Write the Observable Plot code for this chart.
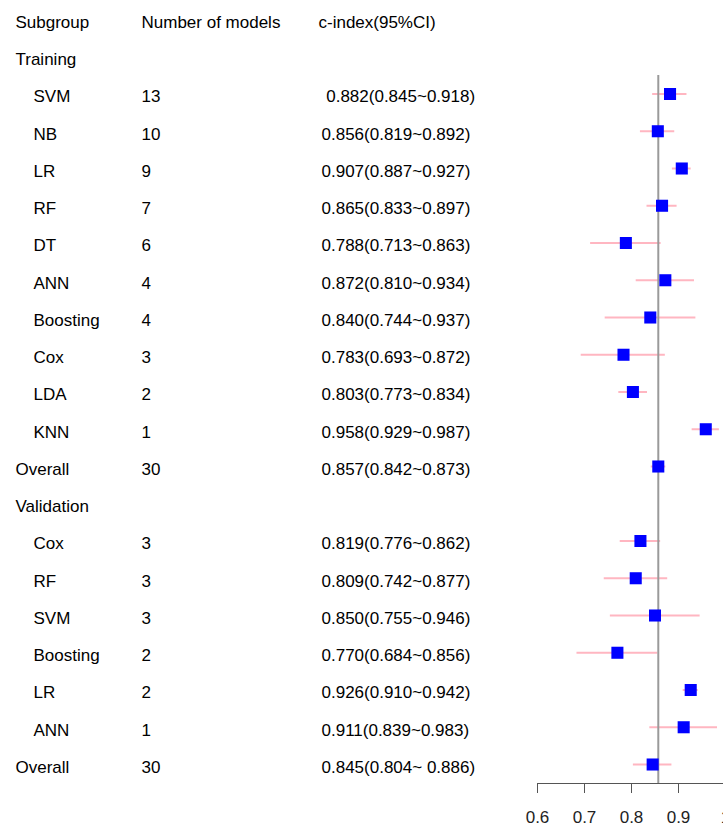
<!DOCTYPE html>
<html>
<head>
<meta charset="utf-8">
<script src="https://cdn.jsdelivr.net/npm/d3@7"></script>
<script src="https://cdn.jsdelivr.net/npm/@observablehq/plot@0.6"></script>
<style>
  html, body { margin: 0; padding: 0; background: #fff; overflow: hidden; }
  #chart svg { display: block; max-width: none !important; }
</style>
</head>
<body>
<div id="chart"></div>
<script>
// ---- data ----
const headers = ["Subgroup", "Number of models", "c-index(95%CI)"];
const labels = ["Training", "SVM", "NB", "LR", "RF", "DT", "ANN", "Boosting", "Cox", "LDA", "KNN", "Overall",
                "Validation", "Cox", "RF", "SVM", "Boosting", "LR", "ANN", "Overall"];
const sectionRows = ["Training", "Validation", "Overall"];
const nModels = [null, 13, 10, 9, 7, 6, 4, 4, 3, 2, 1, 30,
                 null, 3, 3, 3, 2, 2, 1, 30];
const est   = [null, 0.882, 0.856, 0.907, 0.865, 0.788, 0.872, 0.840, 0.783, 0.803, 0.958, 0.857,
               null, 0.819, 0.809, 0.850, 0.770, 0.926, 0.911, 0.845];
const lower = [null, 0.845, 0.819, 0.887, 0.833, 0.713, 0.810, 0.744, 0.693, 0.773, 0.929, 0.842,
               null, 0.776, 0.742, 0.755, 0.684, 0.910, 0.839, 0.804];
const upper = [null, 0.918, 0.892, 0.927, 0.897, 0.863, 0.934, 0.937, 0.872, 0.834, 0.987, 0.873,
               null, 0.862, 0.877, 0.946, 0.856, 0.942, 0.983, 0.886];
const ciText = ["", "\u00A00.882(0.845~0.918)", "0.856(0.819~0.892)", "0.907(0.887~0.927)", "0.865(0.833~0.897)",
                "0.788(0.713~0.863)", "0.872(0.810~0.934)", "0.840(0.744~0.937)", "0.783(0.693~0.872)",
                "0.803(0.773~0.834)", "0.958(0.929~0.987)", "0.857(0.842~0.873)",
                "", "0.819(0.776~0.862)", "0.809(0.742~0.877)", "0.850(0.755~0.946)", "0.770(0.684~0.856)",
                "0.926(0.910~0.942)", "0.911(0.839~0.983)", "0.845(0.804~ 0.886)"];
const xTicks = [0.6, 0.7, 0.8, 0.9, 1.0];
const refValue = 0.857; // overall training c-index

// ---- table ----
const rows = labels.map((label, i) => ({
  row: i + 1, label, n: nModels[i], est: est[i], lo: lower[i], hi: upper[i], ci: ciText[i],
  section: sectionRows.includes(label)
}));
const estRows = rows.filter(d => d.est != null);
const yMax = 20.51;

const font = "'Liberation Sans', Arial, sans-serif";
const fs = 17;
const textOpts = {frameAnchor: "left", textAnchor: "start", lineAnchor: "middle", fontSize: fs, fill: "#000", dy: 3};

const chart = Plot.plot({
  width: 730,
  height: 827,
  marginLeft: 537,
  marginRight: 5,
  marginTop: 19,
  marginBottom: 44,
  style: {fontFamily: font, background: "#fff", overflow: "visible", maxWidth: "none"},
  x: {domain: [0.6, 1.0], axis: null},
  y: {domain: [0, yMax], reverse: true, axis: null},
  marks: [
    Plot.axisX({ticks: xTicks, tickSize: 10, tickPadding: 17, stroke: "#555", fill: "#222",
                fontSize: fs, label: null, tickFormat: d => d === 1 ? "1" : d3.format(".1f")(d)}),
    Plot.frame({anchor: "bottom", stroke: "#555"}),
    Plot.ruleY(estRows, {y: "row", x1: "lo", x2: "hi", stroke: "#FFB6C1", strokeWidth: 2}),
    Plot.ruleX([refValue], {y1: 1.5, y2: yMax, stroke: "#9a9a9a", strokeWidth: 2}),
    Plot.dot(estRows, {x: "est", y: "row", symbol: "square", r: 6.8, fill: "#0000FF", stroke: null}),
    // header row
    Plot.text([headers[0]], {...textOpts, y: 0, text: d => d, dx: 15 - 537}),
    Plot.text([headers[1]], {...textOpts, y: 0, text: d => d, dx: 141 - 537}),
    Plot.text([headers[2]], {...textOpts, y: 0, text: d => d, dx: 318 - 537}),
    // subgroup column
    Plot.text(rows.filter(d => d.section), {...textOpts, y: "row", text: "label", dx: 15 - 537}),
    Plot.text(rows.filter(d => !d.section), {...textOpts, y: "row", text: "label", dx: 33 - 537}),
    // number of models
    Plot.text(rows.filter(d => d.n != null), {...textOpts, y: "row", text: d => String(d.n), dx: 141 - 537}),
    // c-index
    Plot.text(estRows, {...textOpts, y: "row", text: "ci", dx: 321 - 537})
  ]
});
document.getElementById("chart").appendChild(chart);
</script>
</body>
</html>
